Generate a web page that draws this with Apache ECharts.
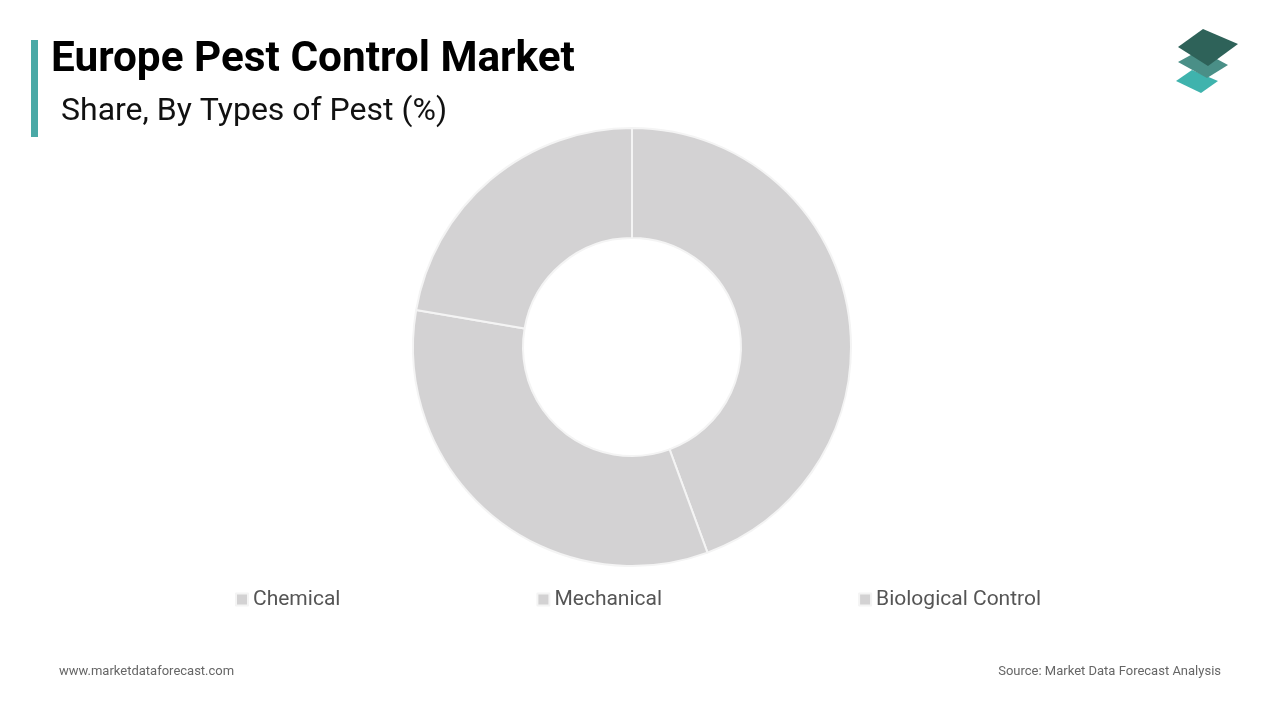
<!DOCTYPE html>
<html>
<head>
<meta charset="utf-8">
<script src="https://cdn.jsdelivr.net/npm/echarts@6/dist/echarts.min.js"></script>
<style>
html,body{margin:0;padding:0;background:#fff;}
#_chart{width:1280px;height:720px;}
</style>
</head>
<body>
<div id="_chart"></div>
<script>
var pestTypes = ['Chemical', 'Mechanical', 'Biological Control'];
var pestShares = [44.4, 33.3, 22.3];
var sliceColors = ['#d3d2d3', '#d3d2d3', '#d3d2d3'];

function renderChart(){
	var _chart = echarts.init(document.getElementById('_chart'));
	var _data = [];
	for (var i = 0; i < pestTypes.length; i++) {
		_data.push({name: pestTypes[i], value: pestShares[i], itemStyle: {color: sliceColors[i]}});
	}
	var _chart_option = {
		backgroundColor: '#ffffff',
		textStyle: {fontFamily: 'Roboto'},
		title: [
			{
				text: 'Europe Pest Control Market',
				left: 46, top: 34,
				textStyle: {fontSize: 42.3, fontWeight: 'bold', color: '#000', fontFamily: 'Roboto'}
			},
			{
				text: 'Share, By Types of Pest (%)',
				left: 56, top: 91,
				textStyle: {fontSize: 32, fontWeight: 'normal', color: '#111', fontFamily: 'Roboto'}
			},
			{
				text: 'www.marketdataforecast.com',
				left: 54, top: 660,
				textStyle: {fontSize: 13, fontWeight: 'normal', color: '#666'}
			},
			{
				text: 'Source: Market Data Forecast Analysis',
				right: 54, top: 660,
				textStyle: {fontSize: 13, fontWeight: 'normal', color: '#666'}
			}
		],
		legend: {
			data: pestTypes,
			left: 230, top: 584,
			itemGap: 196,
			itemWidth: 12, itemHeight: 12,
			icon: 'rect',
			textStyle: {fontSize: 21, color: '#555', fontFamily: 'Roboto'}
		},
		graphic: [
			{type: 'rect', shape: {x: 31, y: 40, width: 7, height: 97}, style: {fill: '#4aa9a6'}},
			{type: 'polygon', shape: {points: [[1176, 81], [1192, 70], [1218, 81], [1201, 93]]}, style: {fill: '#3fb3ad'}},
			{type: 'polygon', shape: {points: [[1178, 62], [1200, 50], [1228, 65], [1207, 78]]}, style: {fill: '#4a8f87'}},
			{type: 'polygon', shape: {points: [[1178, 47], [1203, 29], [1238, 44], [1208, 66]]}, style: {fill: '#2e6259'}}
		],
		series: [
			{
				name: 'Share',
				type: 'pie',
				center: [632, 347],
				radius: [109, 219],
				startAngle: 90,
				clockwise: true,
				label: {show: false},
				labelLine: {show: false},
				itemStyle: {borderColor: '#f4f4f4', borderWidth: 2},
				emphasis: {disabled: true},
				data: _data
			}
		]
	};
	_chart.setOption(_chart_option);
}
renderChart();
</script>
</body>
</html>
